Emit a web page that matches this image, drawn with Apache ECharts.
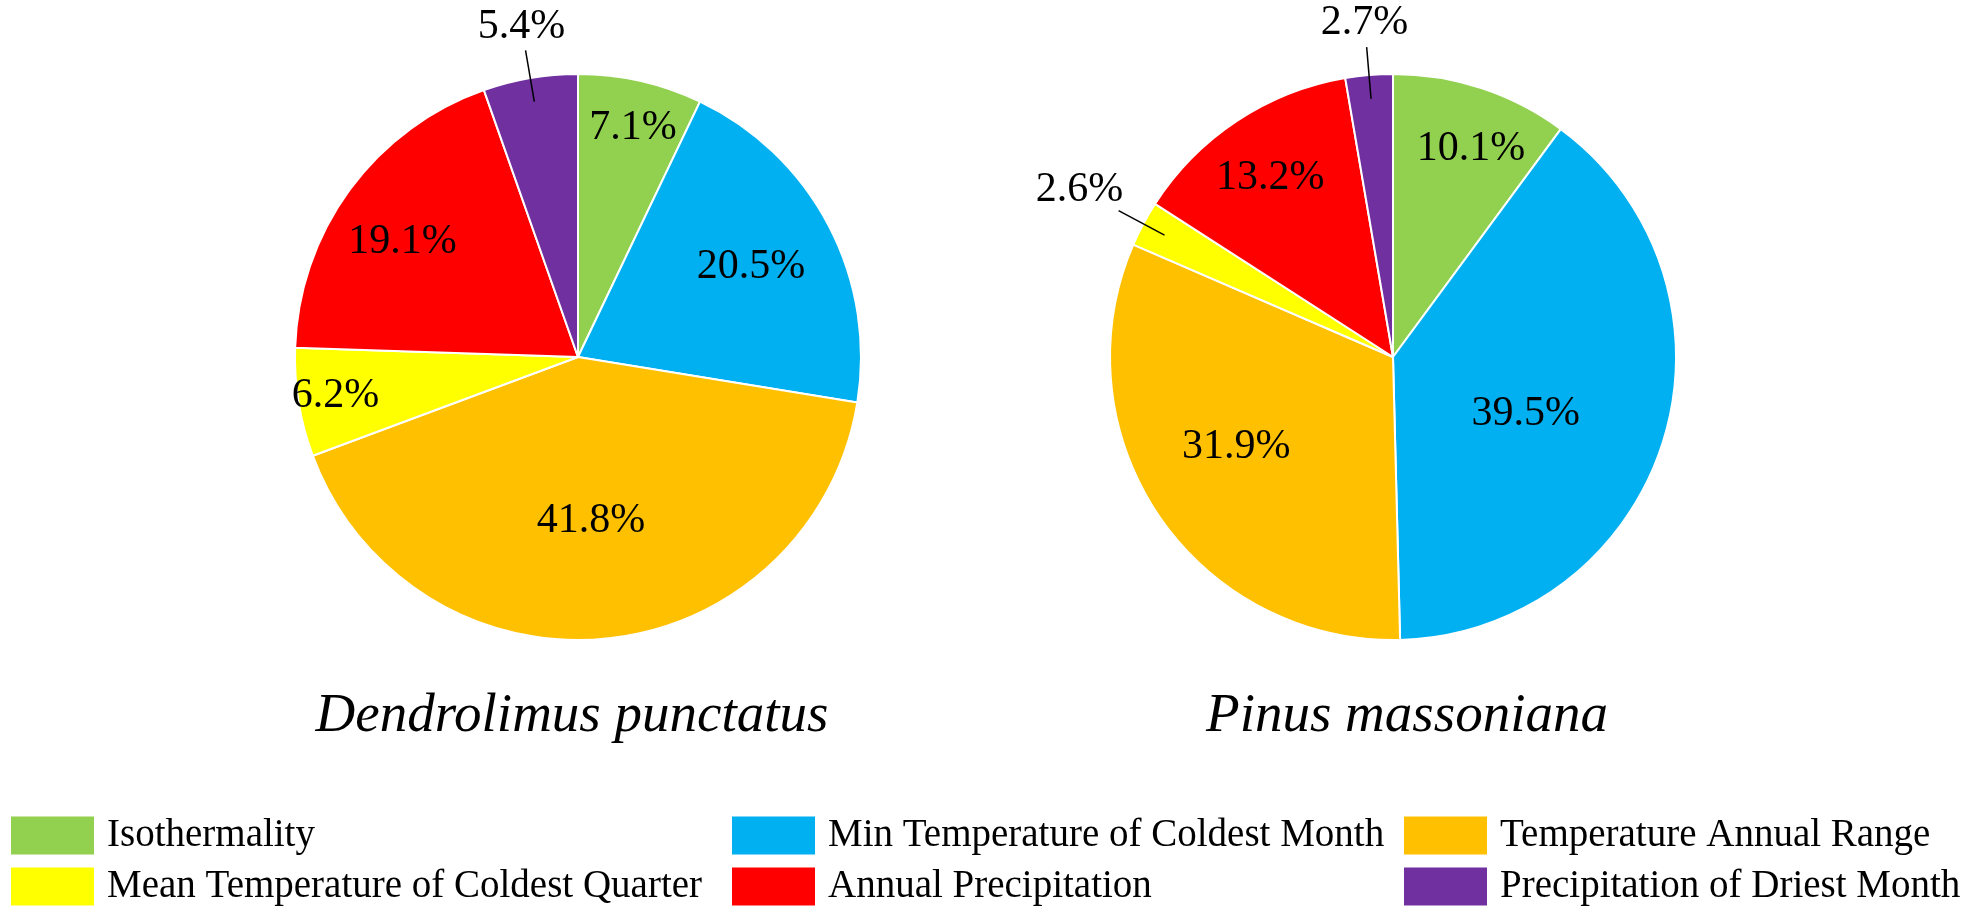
<!DOCTYPE html>
<html>
<head>
<meta charset="utf-8">
<title>Pie charts</title>
<script src="https://cdn.jsdelivr.net/npm/echarts@6/dist/echarts.min.js"></script>
<style>
  html, body { margin: 0; padding: 0; background: #fff; }
  #echarts_box { width: 1972px; height: 916px; }
</style>
</head>
<body>
<div id="echarts_box"></div>
<script>
// 数据
var categories = [
    'Isothermality',
    'Min Temperature of Coldest Month',
    'Temperature Annual Range',
    'Mean Temperature of Coldest Quarter',
    'Annual Precipitation',
    'Precipitation of Driest Month'
];
var species = ['Dendrolimus punctatus', 'Pinus massoniana'];
var dendrolimusValues = [7.1, 20.5, 41.8, 6.2, 19.1, 5.4];
var pinusValues = [10.1, 39.5, 31.9, 2.6, 13.2, 2.7];
var colors = ['#92D050', '#00B0F0', '#FFC000', '#FFFF00', '#FF0000', '#7030A0'];

var allValues = [dendrolimusValues, pinusValues];
var font = 'Liberation Serif, Times New Roman, serif';
var pieCenters = [[578, 357], [1393, 357]];
var pieRadius = 283;

// 标签微调 (inside labels, Excel "best fit" style)
var labelNudge = [
    [[23, -88], [45, -23], [-1, 20], [-100, 16], [-59, -30], [0, 0]],
    [[33, -71], [-5, 14], [-37, 9], [0, 0], [-43, -59], [0, 0]]
];

// 小扇区的标签放在外面
function isSmall(v) { return v < 6; }

function buildData(values, outer) {
    return values.map(function (v, i) {
        var show = outer ? isSmall(v) : !isSmall(v);
        return { value: v, name: categories[i], label: { show: show }, labelLine: { show: outer && show } };
    });
}

function innerLayout(params) {
    var n = labelNudge[params.seriesIndex % 2][params.dataIndex];
    return { dx: n[0], dy: n[1] };
}

function outerLayout(params) {
    var pts = params.labelLinePoints;
    if (!pts) return {};
    var p0 = pts[0], p1 = pts[1];
    var vx = p1[0] - p0[0], vy = p1[1] - p0[1];
    var len = Math.sqrt(vx * vx + vy * vy) || 1;
    var ux = vx / len, uy = vy / len;
    var a = params.labelRect.width / 2, b = 18;
    var t = Math.min(Math.abs(ux) > 1e-6 ? a / Math.abs(ux) : 1e9,
                     Math.abs(uy) > 1e-6 ? b / Math.abs(uy) : 1e9) + 6;
    return {
        x: p1[0] + ux * t,
        y: p1[1] + uy * t,
        align: 'center',
        verticalAlign: 'middle',
        labelLinePoints: [[p0[0] - ux * 24, p0[1] - uy * 24], p1, p1]
    };
}

var labelText = {
    formatter: function (p) { return p.value.toFixed(1) + '%'; },
    color: '#000',
    fontFamily: font,
    fontSize: 42
};

function makeSeries(k) {
    return {
        name: species[k],
        type: 'pie',
        radius: pieRadius,
        center: pieCenters[k],
        startAngle: 90,
        clockwise: true,
        avoidLabelOverlap: false,
        z: 2,
        data: buildData(allValues[k], false),
        itemStyle: { borderColor: '#ffffff', borderWidth: 2 },
        label: Object.assign({ position: 'inside' }, labelText),
        labelLine: { show: false },
        labelLayout: innerLayout,
        emphasis: { disabled: true }
    };
}

// 透明的覆盖层, 只画外部标签和引导线
function makeOverlay(k) {
    return {
        name: species[k] + ' labels',
        type: 'pie',
        radius: pieRadius,
        center: pieCenters[k],
        startAngle: 90,
        clockwise: true,
        avoidLabelOverlap: false,
        silent: true,
        z: 3,
        data: buildData(allValues[k], true),
        itemStyle: { color: 'rgba(0,0,0,0)', borderWidth: 0 },
        label: Object.assign({ position: 'outside' }, labelText),
        labelLine: {
            length: 28,
            length2: 0,
            smooth: false,
            lineStyle: { color: '#000', width: 1.5 }
        },
        labelLayout: outerLayout,
        emphasis: { disabled: true }
    };
}

function makeLegend(left, names) {
    return {
        orient: 'vertical',
        left: left,
        top: 816,
        padding: 0,
        itemWidth: 83,
        itemHeight: 38,
        itemGap: 12,
        icon: 'rect',
        itemStyle: { borderWidth: 0 },
        selectedMode: false,
        data: names,
        textStyle: {
            fontFamily: font,
            fontSize: 39,
            lineHeight: 38,
            color: '#000',
            padding: [0, 0, 0, 8]
        }
    };
}

var mycharts = echarts.init(document.getElementById('echarts_box'));
var optionObj = {
    backgroundColor: '#ffffff',
    animation: false,
    color: colors,
    legend: [
        makeLegend(11, [categories[0], categories[3]]),
        makeLegend(732, [categories[1], categories[4]]),
        makeLegend(1404, [categories[2], categories[5]])
    ],
    graphic: [
        {
            type: 'text', x: 572, y: 717,
            style: { text: species[0], font: 'italic 55px ' + font, fill: '#000', textAlign: 'center', textVerticalAlign: 'middle' }
        },
        {
            type: 'text', x: 1407, y: 717,
            style: { text: species[1], font: 'italic 55px ' + font, fill: '#000', textAlign: 'center', textVerticalAlign: 'middle' }
        }
    ],
    series: [makeSeries(0), makeSeries(1), makeOverlay(0), makeOverlay(1)]
};

mycharts.setOption(optionObj);
window.onresize = function () {
    mycharts.resize();
};
</script>
</body>
</html>
